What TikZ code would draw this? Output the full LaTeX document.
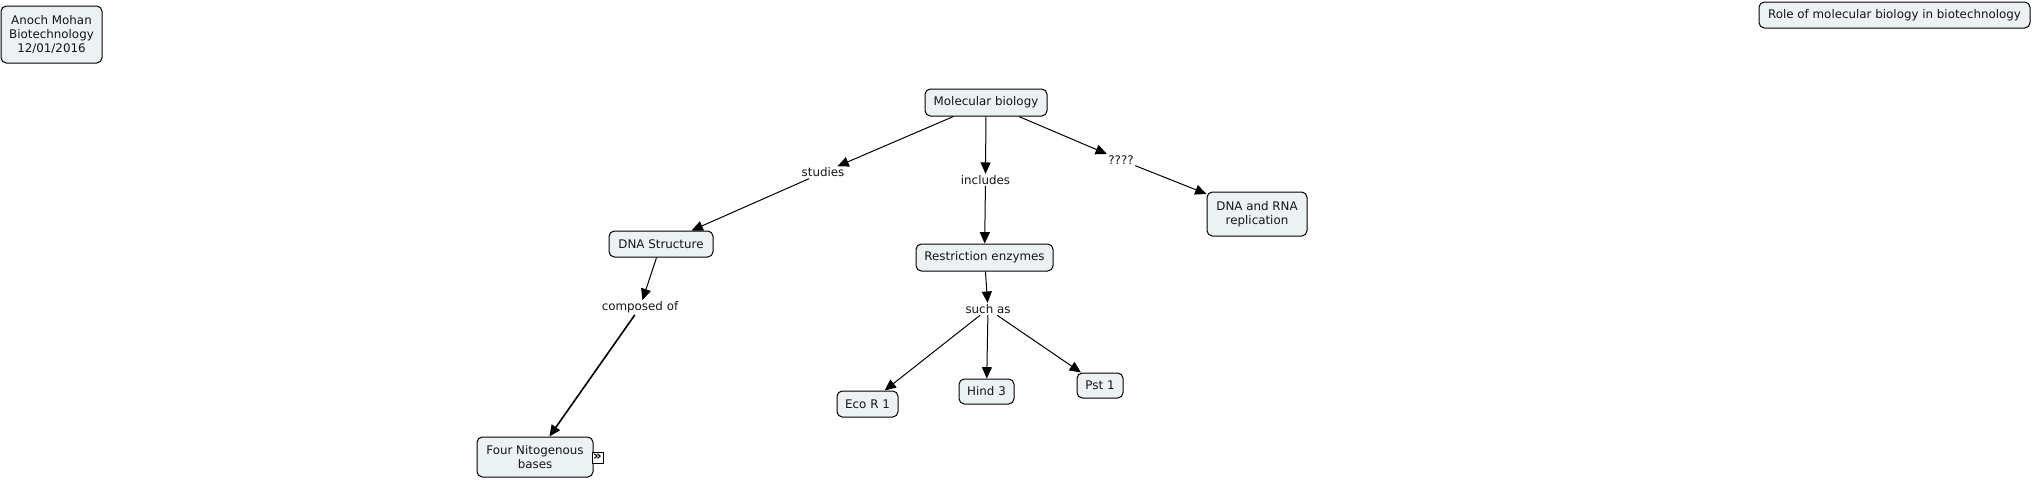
\documentclass[tikz,border=0pt]{standalone}
\usepackage{fontspec}
\setmainfont{DejaVu Sans}
\usetikzlibrary{arrows.meta}
\definecolor{boxfill}{RGB}{236,242,244}
\definecolor{inkc}{RGB}{20,20,20}
\tikzset{
  concept/.style={draw=black, line width=0.75pt, fill=boxfill, rounded corners=4pt,
    inner sep=0pt, align=center, text=inkc,
    font=\fontsize{8.9pt}{10.6pt}\selectfont},
  phrase/.style={inner sep=1pt, text=inkc, font=\fontsize{8.9pt}{10.6pt}\selectfont},
  link/.style={draw=black, line width=0.75pt, -{Triangle[length=8.5pt,width=7.5pt]}},
  iconbox/.style={draw=black, line width=0.6pt, fill=white, inner sep=0pt,
    minimum width=8.25pt, minimum height=8.25pt,
    font=\fontsize{10pt}{10pt}\selectfont\bfseries}
}
\begin{document}
\begin{tikzpicture}[x=0.75pt,y=-0.75pt]
\useasboundingbox (0,0) rectangle (2033,479);
% concepts
\node[concept, minimum width=101*0.75pt, minimum height=57*0.75pt] (anoch) at (51.5,34.5) {Anoch Mohan\\Biotechnology\\12/01/2016};
\node[concept, minimum width=271*0.75pt, minimum height=26*0.75pt] (role) at (1894.5,15) {Role of molecular biology in biotechnology};
\node[concept, minimum width=122*0.75pt, minimum height=27*0.75pt] (mb) at (986,102.5) {Molecular biology};
\node[concept, minimum width=100*0.75pt, minimum height=44*0.75pt] (dnarna) at (1257,214) {DNA and RNA\\replication};
\node[concept, minimum width=104*0.75pt, minimum height=26*0.75pt] (dnas) at (661,244) {DNA Structure};
\node[concept, minimum width=137*0.75pt, minimum height=27*0.75pt] (re) at (984.5,257.5) {Restriction enzymes};
\node[concept, minimum width=61*0.75pt, minimum height=26*0.75pt] (eco) at (867.5,404) {Eco R 1};
\node[concept, minimum width=55*0.75pt, minimum height=25*0.75pt] (hind) at (986.5,391.5) {Hind 3};
\node[concept, minimum width=46*0.75pt, minimum height=25*0.75pt] (pst) at (1100,385.5) {Pst 1};
\node[concept, minimum width=116*0.75pt, minimum height=40*0.75pt] (bases) at (535,457) {Four Nitogenous\\bases};
\node[iconbox] (icon) at (597.5,457.5) {\raisebox{-0.6pt}{»}};
% linking phrases
\node[phrase] (studies) at (823,172.5) {studies};
\node[phrase] (includes) at (985.5,180) {includes};
\node[phrase] (qqq) at (1121,160) {????};
\node[phrase] (composed) at (640,307.5) {composed of};
\node[phrase] (suchas) at (988,309) {such as};
% connectors
\draw[link] (mb) -- (studies);
\draw[link] (studies) -- (dnas);
\draw[link] (mb) -- (includes);
\draw[link] (includes) -- (re);
\draw[link] (mb) -- (qqq);
\draw[link] (qqq) -- (dnarna);
\draw[link] (dnas) -- (composed);
\draw[link, line width=1.2pt] (composed) -- (bases);
\draw[link] (re) -- (suchas);
\draw[link] (suchas) -- (eco);
\draw[link] (suchas) -- (hind);
\draw[link] (suchas) -- (pst);
\end{tikzpicture}
\end{document}
